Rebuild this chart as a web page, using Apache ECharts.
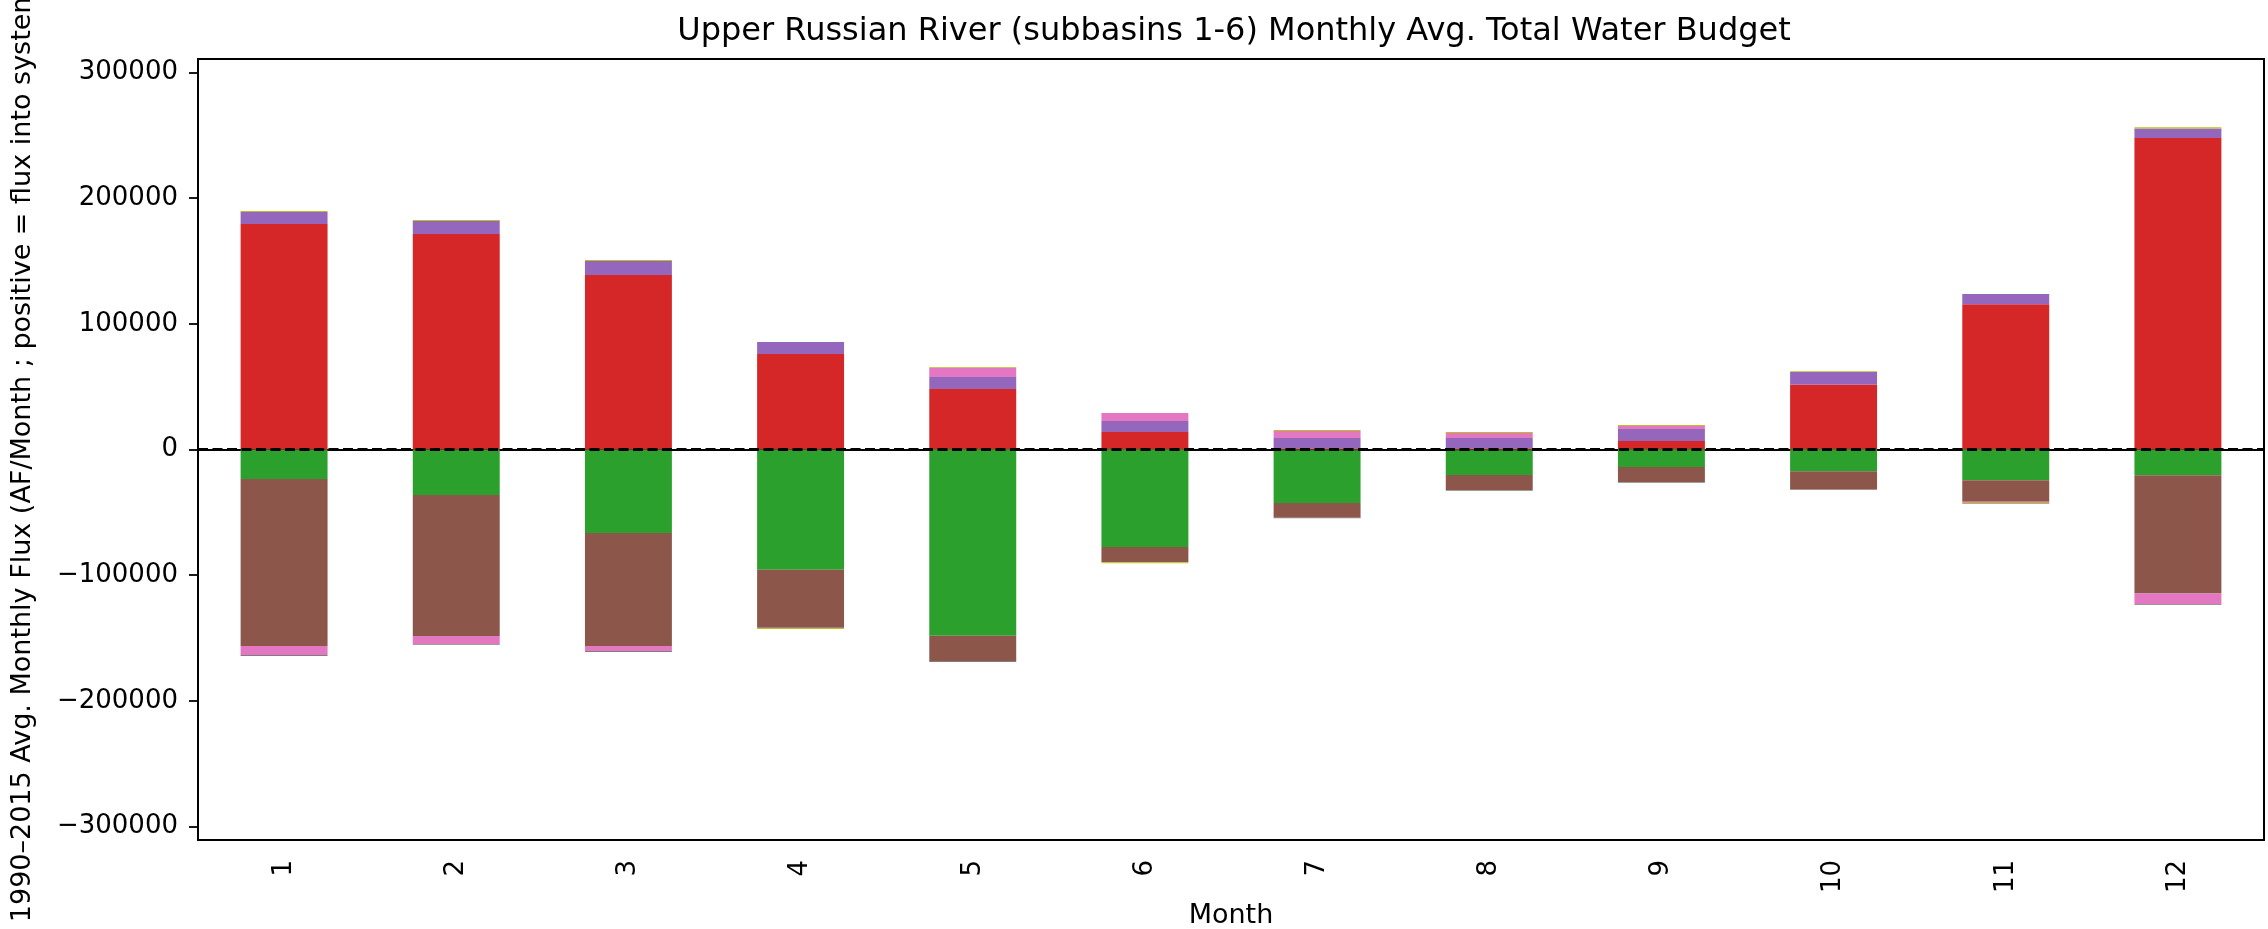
<!DOCTYPE html>
<html>
<head>
<meta charset="utf-8">
<script src="https://cdn.jsdelivr.net/npm/echarts@6/dist/echarts.min.js"></script>
<style>html,body{margin:0;padding:0;background:#fff;}#c{width:2268px;height:929px;}</style>
</head>
<body>
<div id="c"></div>
<script>
// ---- data (AF/Month) ----
const months = ['1','2','3','4','5','6','7','8','9','10','11','12'];
const blueVals   = [0, 0, 0, 0, 0, 0, -600, -600, 0, 0, 0, 0];
const orangeVals = [0, 0, 0, 0, 400, 400, 0, 0, 400, 400, 400, 0];
const greenVals  = [-23500, -36200, -66400, -95600, -148100, -77600, -41900, -19700, -13900, -17300, -24400, -20500];
const redVals    = [179400, 171400, 138800, 76000, 47700, 13500, 1000, 1000, 6350, 51300, 115200, 247700];
const purpleVals = [9500, 10400, 11200, 9500, 9600, 8800, 8150, 8150, 9550, 9900, 8000, 7700];
const brownVals  = [-132800, -112200, -89900, -46200, -20200, -11900, -11700, -11900, -11900, -14500, -17200, -94000];
const pinkVals   = [-7200, -6300, -4000, 0, 7400, 6300, 5550, 3950, 2400, 0, -800, -8500];
const grayVals   = [-800, -600, -800, -200, -700, -200, -500, -700, -700, -500, -200, -700];
const oliveVals  = [800, 800, 800, -700, 500, -700, 800, 800, 800, 600, -800, 1000];
const yTicks = [-300000, -200000, -100000, 0, 100000, 200000, 300000];
const seriesData = [blueVals, orangeVals, greenVals, redVals, purpleVals, brownVals, pinkVals, grayVals, oliveVals];
const seriesNames = ['s1','s2','s3','s4','s5','s6','s7','s8','s9'];
const colors = ['#1f77b4','#ff7f0e','#2ca02c','#d62728','#9467bd','#8c564b','#e377c2','#7f7f7f','#bcbd22'];

const FONT = 'DejaVu Sans';
const chart = echarts.init(document.getElementById('c'), null, {renderer: 'canvas'});
const series = seriesData.map((d, i) => ({
  name: seriesNames[i],
  type: 'bar',
  stack: 'total',
  data: d,
  barWidth: '50.5%',
  itemStyle: {color: colors[i]},
  silent: true,
  z: 2
}));
series[series.length - 1].markLine = {
  silent: true,
  symbol: ['none', 'none'],
  label: {show: false},
  lineStyle: {color: '#000', type: [10, 4.5], width: 2.8},
  data: [{yAxis: 0}],
  z: 10
};
series[series.length - 1].z = 3;

chart.setOption({
  animation: false,
  backgroundColor: '#fff',
  title: {
    text: 'Upper Russian River (subbasins 1-6) Monthly Avg. Total Water Budget',
    left: 1229, top: 11, textAlign: 'center',
    textStyle: {fontFamily: FONT, fontSize: 32, fontWeight: 'normal', color: '#000'}
  },
  grid: {left: 198, right: 4, top: 59, bottom: 89, outerBoundsMode: 'none', containLabel: false,
         show: true, borderColor: '#000', borderWidth: 2, backgroundColor: 'transparent'},
  xAxis: {
    type: 'category',
    data: months,
    name: 'Month',
    nameLocation: 'middle',
    nameGap: 62,
    nameTextStyle: {fontFamily: FONT, fontSize: 27, color: '#000'},
    axisLine: {show: true, lineStyle: {color: '#000', width: 2}},
    axisTick: {show: true, alignWithLabel: true, length: 9, lineStyle: {color: '#000', width: 1.8}},
    axisLabel: {rotate: 90, margin: 20, fontFamily: FONT, fontSize: 26, color: '#000'},
    splitLine: {show: false}
  },
  yAxis: {
    type: 'value',
    min: -310600, max: 310600,
    name: '1990\u20132015 Avg. Monthly Flux (AF/Month ; positive = flux into system)',
    nameLocation: 'middle',
    nameRotate: 90,
    nameGap: 162,
    nameTextStyle: {fontFamily: FONT, fontSize: 27, color: '#000'},
    axisLine: {show: true, lineStyle: {color: '#000', width: 2}},
    axisTick: {show: true, length: 9, lineStyle: {color: '#000', width: 1.8}, customValues: yTicks},
    axisLabel: {
      margin: 20, fontFamily: FONT, fontSize: 26, color: '#000', customValues: yTicks,
      formatter: v => String(v).replace('-', '\u2212')
    },
    splitLine: {show: false}
  },
  series: series
});
</script>
</body>
</html>
